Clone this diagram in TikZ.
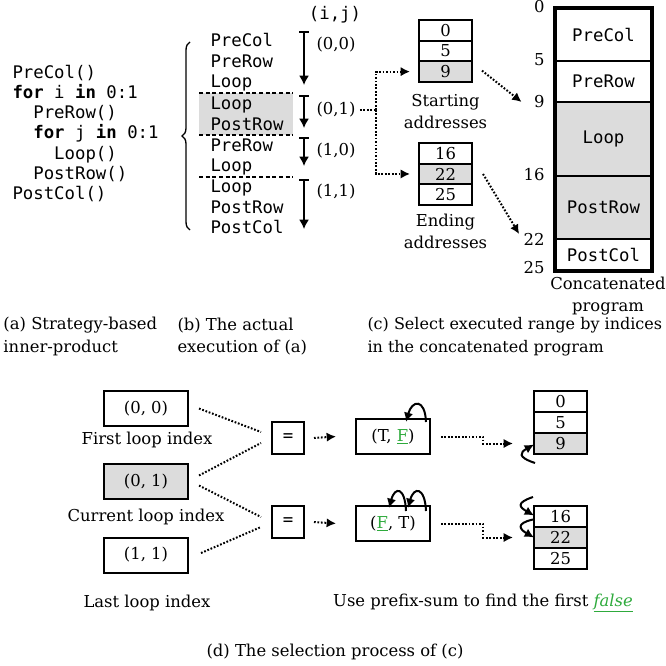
\documentclass[tikz,border=0pt]{standalone}
\usepackage{fontspec}
\setmainfont{DejaVu Serif}
\setmonofont{DejaVu Sans Mono}
\usetikzlibrary{arrows.meta,calc,decorations.pathreplacing,positioning}

\definecolor{cellgray}{RGB}{220,220,220}
\definecolor{falsegreen}{RGB}{46,170,60}
\newcommand{\grnu}[1]{\textcolor{falsegreen}{\underline{#1}}}

\tikzset{every picture/.style={line width=0.75pt}}
\tikzset{
  code/.style={anchor=mid west, inner sep=0pt, font=\ttfamily\fontsize{13}{15}\selectfont},
  lbl/.style={inner sep=0pt, align=center, font=\fontsize{12.3}{17}\selectfont},
  cell/.style={draw, line width=1.5pt, outer sep=0pt, inner sep=0pt, minimum width=39.75pt, minimum height=15.5pt, font=\fontsize{12.3}{14}\selectfont},
  seg/.style={draw, line width=1.5pt, outer sep=0pt, inner sep=0pt, minimum width=72.75pt, font=\ttfamily\fontsize{13}{15}\selectfont},
  ibox/.style={draw, line width=1.5pt, inner sep=0pt, minimum width=63pt, minimum height=26.25pt, font=\fontsize{12.3}{14}\selectfont},
  eqbox/.style={draw, line width=1.5pt, inner sep=0pt, minimum size=24pt, font=\ttfamily\fontsize{13}{15}\selectfont},
  stepar/.style={line width=1.2pt, {Bar[width=7.5pt]}-{Latex[length=7pt,width=7.5pt]}},
  sepline/.style={line width=1.3pt, dash pattern=on 3pt off 2pt},
  dotline/.style={line width=1.5pt, dash pattern=on 1.3pt off 1.3pt},
  dotar/.style={dotline, -{Latex[length=7pt,width=7pt]}},
  curvear/.style={line width=1.5pt, -{Latex[length=7pt,width=7pt]}},
}

\begin{document}
\begin{tikzpicture}[x=0.75pt,y=0.75pt,yscale=-1,xscale=1]
\useasboundingbox (0,0) rectangle (665,666);

% (a) the strategy code
\node[code] (a1) at (12,75.5) {PreCol()};
\node[code] (a2) at (12,95.5) {\textbf{for} i \textbf{in} 0:1};
\node[code] (a3) at (12,115.5) {\phantom{xx}PreRow()};
\node[code] (a4) at (12,135.5) {\phantom{xx}\textbf{for} j \textbf{in} 0:1};
\node[code] (a5) at (12,156) {\phantom{xxxx}Loop()};
\node[code] (a6) at (12,176) {\phantom{xx}PostRow()};
\node[code] (a7) at (12,196) {PostCol()};

% brace
\draw[line width=1pt, decorate, decoration={brace, amplitude=6pt}] (190,230) -- (190,42);

% (b) the executed sequence
\fill[cellgray] (199,93) rectangle (293,135);
\draw[sepline] (199,93) -- (293,93);
\draw[sepline] (199,135) -- (293,135);
\draw[sepline] (199,177) -- (293,177);
\node[code] (b1) at (210,43.5) {PreCol};
\node[code] (b2) at (210,64) {PreRow};
\node[code] (b3) at (210,84) {Loop};
\node[code] (b4) at (210,106) {Loop};
\node[code] (b5) at (210,127) {PostRow};
\node[code] (b6) at (210,148) {PreRow};
\node[code] (b7) at (210,168) {Loop};
\node[code] (b8) at (210,189) {Loop};
\node[code] (b9) at (210,210) {PostRow};
\node[code] (b10) at (210,230.5) {PostCol};

% index arrows
\node[code, anchor=center] (ij) at (335,15) {(i,j)};
\coordinate (t1) at (304,31);  \coordinate (h1) at (304,85);
\coordinate (t2) at (304,95);  \coordinate (h2) at (304,128);
\coordinate (t3) at (304,137); \coordinate (h3) at (304,166);
\coordinate (t4) at (304,179); \coordinate (h4) at (304,229);
\draw[stepar] (t1) -- (h1);
\draw[stepar] (t2) -- (h2);
\draw[stepar] (t3) -- (h3);
\draw[stepar] (t4) -- (h4);
\node[lbl] (l00) at (336,45) {(0,0)};
\node[lbl] (l01) at (336,110) {(0,1)};
\node[lbl] (l10) at (336,151) {(1,0)};
\node[lbl] (l11) at (336,192) {(1,1)};

% (c) address tables
\node[cell] (s0) at (445.5,30.3) {0};
\node[cell, below=0pt of s0] (s5) {5};
\node[cell, fill=cellgray, below=0pt of s5] (s9) {9};
\node[lbl] (slbl) at (445.5,111.5) {Starting\\addresses};
\node[cell] (e16) at (445.5,153.3) {16};
\node[cell, fill=cellgray, below=0pt of e16] (e22) {22};
\node[cell, below=0pt of e22] (e25) {25};
\node[lbl] (elbl) at (445.5,231.5) {Ending\\addresses};

\coordinate (split) at (376,110);
\draw[dotline, shorten <=3pt] (l01.east) -- (split);
\draw[dotar] (split) |- ($(s9.west)+(-9,0)$);
\draw[dotar] (split) |- ($(e22.west)+(-9,0)$);

% concatenated program
\node[seg, minimum height=39.75pt] (cpre) at (603.5,34.5) {PreCol};
\node[seg, minimum height=30.75pt, below=0pt of cpre] (cprow) {PreRow};
\node[seg, minimum height=55.5pt, fill=cellgray, below=0pt of cprow] (cloop) {Loop};
\node[seg, minimum height=47.25pt, fill=cellgray, below=0pt of cloop] (cpost) {PostRow};
\node[seg, minimum height=24pt, below=0pt of cpost] (cpcol) {PostCol};
\draw[line width=3.5pt] (cpre.north west) rectangle (cpcol.south east);
\node[lbl, anchor=east] (n0) at (545,7) {0};
\node[lbl, anchor=east] (n5) at (545,60) {5};
\node[lbl, anchor=east] (n9) at (545,102) {9};
\node[lbl, anchor=east] (n16) at (545,175) {16};
\node[lbl, anchor=east] (n22) at (545,239) {22};
\node[lbl, anchor=east] (n25) at (545,268) {25};
\node[lbl] (conlbl) at (608,296) {Concatenated\\program};

\draw[dotar] ($(s9.east)+(10,-1)$) -- ($(n9.west)+(-12,0)$);
\draw[dotar] ($(e22.east)+(11,0)$) -- ($(n22.west)+(-4,-5)$);

% captions
\node[lbl, anchor=west, align=left] (capa) at (3,336.5) {(a) Strategy-based\\inner-product};
\node[lbl, anchor=west, align=left] (capb) at (177,336.5) {(b) The actual\\execution of (a)};
\node[lbl, anchor=west, align=left, font=\fontsize{12}{17}\selectfont] (capc) at (367,336.5) {(c) Select executed range by indices\\in the concatenated program};

% (d) loop indices
\node[ibox] (i00) at (146,408.5) {(0, 0)};
\node[lbl] (i00lbl) at (147,440) {First loop index};
\node[ibox, fill=cellgray] (i01) at (146,481.5) {(0, 1)};
\node[lbl] (i01lbl) at (146,517) {Current loop index};
\node[ibox] (i11) at (146,555) {(1, 1)};
\node[lbl] (i11lbl) at (147,603) {Last loop index};

\node[eqbox] (eq1) at (288,438) {=};
\node[eqbox] (eq2) at (288,522) {=};
\draw[dotline] ($(i00.east)+(10,0)$) -- ($(eq1.west)+(-10,-6)$);
\draw[dotline] ($(i01.east)+(10,-6)$) -- ($(eq1.west)+(-10,5)$);
\draw[dotline] ($(i01.east)+(10,4)$) -- ($(eq2.west)+(-10,-5)$);
\draw[dotline] ($(i11.east)+(12,-2)$) -- ($(eq2.west)+(-10,5)$);

% comparison results
\node[ibox, minimum width=55.5pt] (tf) at (393,436.5) {(T, \grnu{F})};
\node[ibox, minimum width=55.5pt] (ft) at (393,523.5) {(\grnu{F}, T)};
\draw[dotar] ($(eq1.east)+(9,0)$) -- ($(tf.west)+(-19,0)$);
\draw[dotar] ($(eq2.east)+(9,0)$) -- ($(ft.west)+(-19,0)$);

\draw[curvear] ($(tf.north east)+(-5,4)$) .. controls +(-1,-24) and +(6,-22) .. ($(tf.north east)+(-25,4)$);
\draw[curvear] ($(ft.north east)+(-5,6)$) .. controls +(-1,-24) and +(6,-22) .. ($(ft.north east)+(-23,3)$);
\draw[curvear] ($(ft.north east)+(-25,6)$) .. controls +(-1,-24) and +(6,-22) .. ($(ft.north east)+(-42,3)$);

% selected addresses
\node[cell, minimum height=15.75pt] (r0) at (560.5,401.5) {0};
\node[cell, minimum height=15.75pt, below=0pt of r0] (r5) {5};
\node[cell, minimum height=15.75pt, fill=cellgray, below=0pt of r5] (r9) {9};
\node[cell, minimum height=15.75pt] (r16) at (560.5,516.5) {16};
\node[cell, minimum height=15.75pt, fill=cellgray, below=0pt of r16] (r22) {22};
\node[cell, minimum height=15.75pt, below=0pt of r22] (r25) {25};

\draw[dotar] ($(tf.east)+(10,0)$) -- ++(42,0) |- ($(r9.west)+(-21,0)$);
\draw[dotar] ($(ft.east)+(10,0)$) -- ++(42,0) |- ($(r22.west)+(-21,0)$);

\draw[curvear] ($(r9.south west)+(1,9)$) .. controls +(-18,-6) and +(-14,8) .. ($(r9.west)+(0,1)$);
\draw[curvear] ($(r16.north west)+(-1,-9)$) .. controls +(-18,6) and +(-14,-8) .. ($(r16.west)+(0,-1)$);
\draw[curvear] ($(r16.west)+(-1,3)$) .. controls +(-18,4) and +(-14,-8) .. ($(r22.west)+(0,0)$);

\node[lbl] (prelbl) at (483,603) {Use prefix-sum to find the first \textit{\grnu{false}}};
\node[lbl] (capd) at (335,652) {(d) The selection process of (c)};

\end{tikzpicture}
\end{document}
